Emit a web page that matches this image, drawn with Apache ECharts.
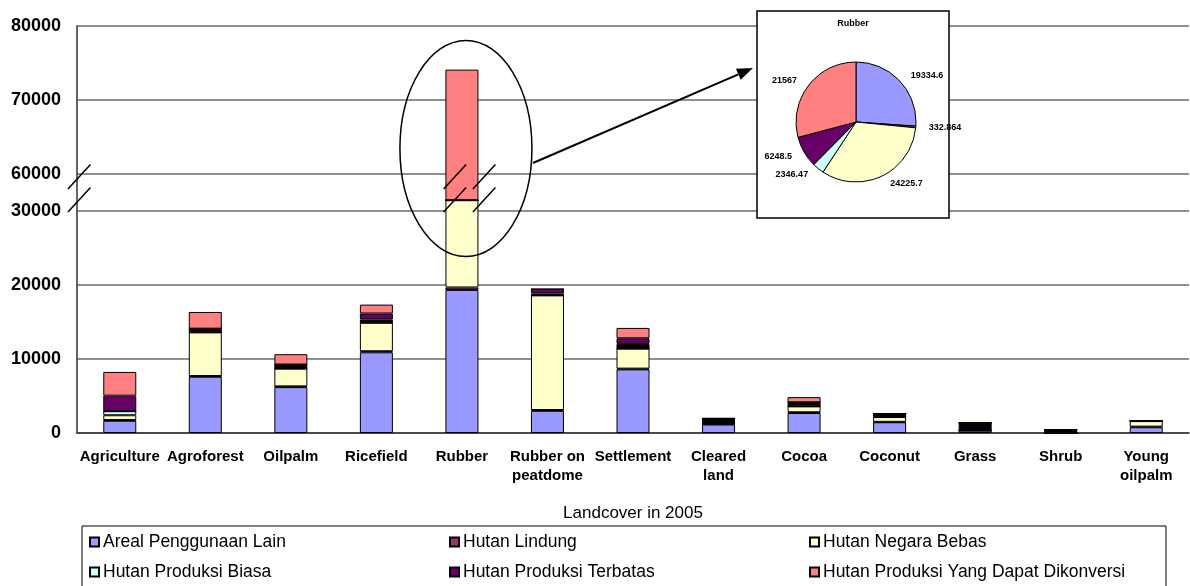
<!DOCTYPE html>
<html>
<head>
<meta charset="utf-8">
<script src="https://cdn.jsdelivr.net/npm/echarts@6/dist/echarts.min.js"></script>
<style>
  html, body { margin: 0; padding: 0; background: #fff; }
  #main { width: 1190px; height: 586px; }
</style>
</head>
<body>
<div id="main"></div>
<script>
// landcover classes on the x axis
var categories = ['Agriculture', 'Agroforest', 'Oilpalm', 'Ricefield', 'Rubber', 'Rubber on\npeatdome',
    'Settlement', 'Cleared\nland', 'Cocoa', 'Coconut', 'Grass', 'Shrub', 'Young\noilpalm'];

// stacked values as drawn (y axis is broken above 30000: drawn value = real value - 25000)
var areal     = [1650, 7600, 6200, 10900, 19335, 3000, 8600, 1150, 2700, 1450, 330, 0, 780];
var lindung   = [100, 100, 100, 150, 333, 100, 100, 0, 100, 60, 0, 0, 80];
var negara    = [650, 5900, 2400, 3850, 11790, 15500, 2700, 120, 800, 650, 0, 0, 750];
var biasa     = [550, 0, 0, 0, 0, 0, 0, 0, 0, 0, 0, 0, 0];
var lainnya   = [0, 500, 550, 450, 0, 250, 650, 700, 550, 450, 1050, 450, 0];
var terbatas  = [2100, 0, 0, 800, 0, 600, 750, 0, 0, 0, 0, 0, 0];
var konversi  = [3200, 2250, 1400, 1200, 17645, 0, 1400, 0, 700, 0, 0, 0, 0];

// rubber breakdown shown in the inset pie
var rubberNames = ['Areal Penggunaan Lain', 'Hutan Lindung', 'Hutan Negara Bebas',
    'Hutan Produksi Biasa', 'Hutan Produksi Terbatas', 'Hutan Produksi Yang Dapat Dikonversi'];
var rubberValues = [19334.6, 332.864, 24225.7, 2346.47, 6248.5, 21567];

// y axis tick positions (drawn units) and the labels printed there
var tickValues = [0, 10000, 20000, 30000, 35000, 45000, 55000];
var tickLabels = ['0', '10000', '20000', '30000', '60000', '70000', '80000'];

var colors = ['#9999FF', '#993366', '#FFFFCC', '#CCFFFF', '#660066', '#FF8080'];

var myChart = echarts.init(document.getElementById('main'));

var step = 5000;
var gridColors = [];
for (var v = 0; v <= 55000; v += step) {
    gridColors.push(tickValues.indexOf(v) >= 0 ? '#6a6a6a' : 'rgba(0,0,0,0)');
}

function barSeries(name, data, color) {
    return {
        name: name,
        type: 'bar',
        stack: 'total',
        barWidth: 33,
        data: data,
        itemStyle: { color: color, borderColor: '#000', borderWidth: 1 }
    };
}

// one legend per entry, 3 columns x 2 rows
var legendCols = [89, 449, 809];
var legendRows = [533, 563];
var legends = rubberNames.map(function (n, i) {
    return {
        left: legendCols[i % 3], top: legendRows[Math.floor(i / 3)],
        icon: 'rect', itemWidth: 9, itemHeight: 9, padding: 0,
        data: [n],
        textStyle: { fontFamily: 'Liberation Sans', fontSize: 17.5, color: '#000', padding: [0, 0, 0, -1] }
    };
});

var option = {
    animation: false,
    grid: { left: 77, right: 1, top: 26, bottom: 153 },
    legend: legends,
    xAxis: {
        type: 'category',
        data: categories,
        name: 'Landcover in 2005',
        nameLocation: 'middle',
        nameGap: 72,
        nameTextStyle: { fontFamily: 'Liberation Sans', fontSize: 17, color: '#000' },
        axisLine: { lineStyle: { color: '#333', width: 1.5 } },
        axisTick: { length: 5, lineStyle: { color: '#333' } },
        axisLabel: {
            interval: 0, margin: 14, lineHeight: 19,
            fontFamily: 'Liberation Sans', fontSize: 15, fontWeight: 'bold', color: '#000'
        }
    },
    yAxis: {
        type: 'value',
        min: 0,
        max: 55000,
        interval: step,
        axisLine: { show: true, lineStyle: { color: '#333', width: 1.5 } },
        axisTick: { show: false },
        axisLabel: {
            margin: 16,
            fontFamily: 'Liberation Sans', fontSize: 18, fontWeight: 'bold', color: '#000',
            formatter: function (val) {
                var i = tickValues.indexOf(val);
                return i >= 0 ? tickLabels[i] : '';
            }
        },
        splitLine: { show: true, showMinLine: true, showMaxLine: true,
            lineStyle: { color: gridColors, width: 1.5 } }
    },
    series: [
        barSeries(rubberNames[0], areal, colors[0]),
        barSeries(rubberNames[1], lindung, colors[1]),
        barSeries(rubberNames[2], negara, colors[2]),
        barSeries(rubberNames[3], biasa, colors[3]),
        barSeries('Lainnya', lainnya, '#000'),
        barSeries(rubberNames[4], terbatas, colors[4]),
        barSeries(rubberNames[5], konversi, colors[5]),
        {
            name: 'Rubber',
            type: 'pie',
            center: [856, 122],
            radius: 60,
            z: 5,
            startAngle: 90,
            data: rubberNames.map(function (n, i) {
                return { name: n, value: rubberValues[i], itemStyle: { color: colors[i] } };
            }),
            itemStyle: { borderColor: '#000', borderWidth: 1 },
            label: {
                show: true, position: 'outside', formatter: '{c}',
                fontFamily: 'Liberation Sans', fontSize: 9, fontWeight: 'bold', color: '#000'
            },
            labelLine: { show: false, length: 8, length2: 0 }
        }
    ]
};

myChart.setOption(option);

// annotations: break marks, ellipse, arrow and the inset frame
var p30 = myChart.convertToPixel({ xAxisIndex: 0, yAxisIndex: 0 }, ['Rubber', 30000]);
var p35 = myChart.convertToPixel({ xAxisIndex: 0, yAxisIndex: 0 }, ['Rubber', 35000]);
var bx = p30[0], y30 = p30[1], y60 = p35[1];
var axisX = myChart.convertToPixel({ xAxisIndex: 0 }, 'Agriculture') - 42.8;

function slash(x, y) {
    return { type: 'line', z: 10, shape: { x1: x, y1: y, x2: x + 22.5, y2: y - 24.5 },
        style: { stroke: '#000', lineWidth: 1.5 } };
}

var tipX = 753, tipY = 68, startX = 533, startY = 163;
var ang = Math.atan2(tipY - startY, tipX - startX);
var headL = 16, headW = 6;
var bxh = tipX - headL * Math.cos(ang), byh = tipY - headL * Math.sin(ang);

myChart.setOption({
    graphic: [
        { type: 'rect', z: 1, shape: { x: 757, y: 11, width: 192, height: 207 },
          style: { fill: '#fff', stroke: '#000', lineWidth: 1.5 } },
        { type: 'text', z: 10, x: 853, y: 24, style: { text: 'Rubber', align: 'center', verticalAlign: 'middle',
          font: 'bold 9px "Liberation Sans"', fill: '#000' } },
        { type: 'rect', z: 1, shape: { x: 82, y: 526, width: 1084, height: 80 },
          style: { fill: 'none', stroke: '#000', lineWidth: 1 } },
        slash(axisX - 9, y60 + 15), slash(axisX - 9, y30 + 1),
        slash(bx - 18.3, y60 + 15), slash(bx - 18.3, y30 + 1),
        slash(bx + 11, y60 + 15), slash(bx + 11, y30 + 1),
        { type: 'ellipse', z: 10, shape: { cx: bx + 4, cy: 148.5, rx: 66, ry: 108 },
          style: { fill: 'none', stroke: '#000', lineWidth: 1.5 } },
        { type: 'line', z: 10, shape: { x1: startX, y1: startY, x2: bxh, y2: byh },
          style: { stroke: '#000', lineWidth: 2 } },
        { type: 'polygon', z: 10, shape: { points: [[tipX, tipY],
            [bxh + headW * Math.sin(ang), byh - headW * Math.cos(ang)],
            [bxh - headW * Math.sin(ang), byh + headW * Math.cos(ang)]] },
          style: { fill: '#000' } }
    ]
});
</script>
</body>
</html>
